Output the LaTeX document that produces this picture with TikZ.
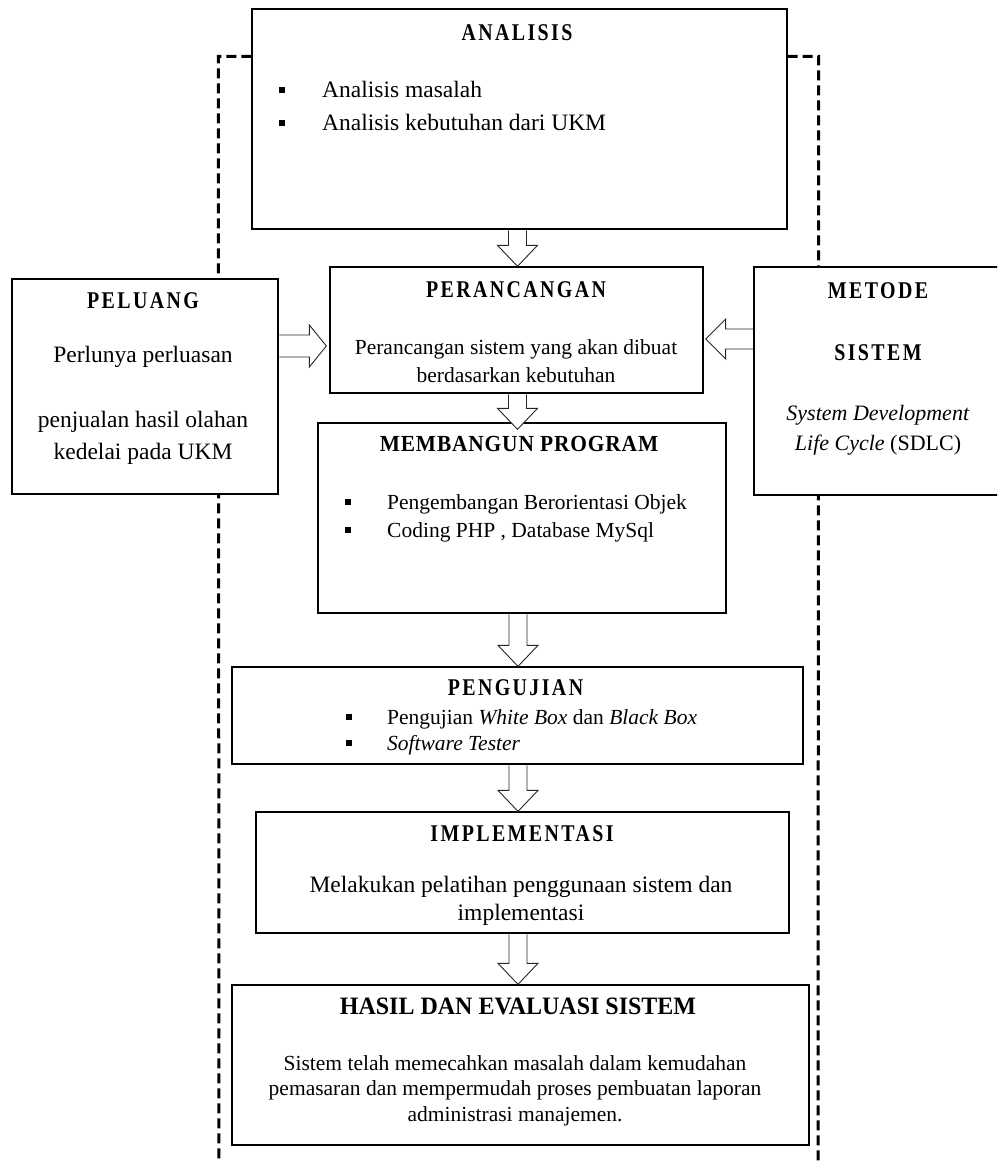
\documentclass[tikz,border=0pt]{standalone}
\usepackage{graphicx}
\usepackage{fontspec}
\setmainfont{Liberation Serif}
\newfontfamily\ttlfont[LetterSpace=12]{Liberation Serif}
\newfontfamily\ttlfontb[LetterSpace=4]{Liberation Serif}
\usetikzlibrary{calc}
\pgfdeclarelayer{bg}
\pgfsetlayers{bg,main}
\newcommand\ttltext[1]{\scalebox{0.83}[1]{#1}}
\tikzset{
 boxs/.style={draw, line width=1.3pt, fill=white, inner sep=0pt},
 blk/.style={draw=black!85, line width=0.9pt, fill=white, line join=miter},
 dashfr/.style={line width=3pt, dash pattern=on 10pt off 5pt},
 txt/.style={inner sep=0pt, anchor=base},
 ttl/.style={txt, font=\ttlfont\bfseries\fontsize{24}{28}\selectfont},
 body/.style={txt, font=\fontsize{21.5}{26}\selectfont},
 bigbody/.style={txt, font=\fontsize{23.5}{28}\selectfont},
 bul/.style={fill=black, minimum size=6.5pt, inner sep=0pt},
}
% vertical block arrow: from node, to node, x (px), overshoot (px)
\newcommand\vblk[4]{%
 \draw[blk] let \p1=(#1.south), \p2=(#2.north) in
  ({#3pt-9pt},{\y1-0.6pt}) -- ({#3pt-9pt},{\y2-#4pt+21pt}) -- ({#3pt-20pt},{\y2-#4pt+21pt})
  -- (#3pt,{\y2-#4pt}) -- ({#3pt+20pt},{\y2-#4pt+21pt}) -- ({#3pt+9pt},{\y2-#4pt+21pt})
  -- ({#3pt+9pt},{\y1-0.6pt});}
% right block arrow: from node, to node, y (px)
\newcommand\rblk[3]{%
 \draw[blk] let \p1=(#1.east), \p2=(#2.west) in
  ({\x1+0.6pt},{-#3pt+11pt}) -- ({\x2-20pt},{-#3pt+11pt}) -- ({\x2-20pt},{-#3pt+21pt})
  -- ({\x2-3pt},{-#3pt}) -- ({\x2-20pt},{-#3pt-21pt}) -- ({\x2-20pt},{-#3pt-11pt})
  -- ({\x1+0.6pt},{-#3pt-11pt});}
% left block arrow: from node, to node, y (px)
\newcommand\lblk[3]{%
 \draw[blk] let \p1=(#1.west), \p2=(#2.east) in
  ({\x1-0.6pt},{-#3pt+10pt}) -- ({\x2+22pt},{-#3pt+10pt}) -- ({\x2+22pt},{-#3pt+20pt})
  -- ({\x2+2pt},{-#3pt}) -- ({\x2+22pt},{-#3pt-20pt}) -- ({\x2+22pt},{-#3pt-10pt})
  -- ({\x1-0.6pt},{-#3pt-10pt});}
\begin{document}
\begin{tikzpicture}[x=1pt,y=-1pt]
\useasboundingbox (0,0) rectangle (997,1162);
\clip (0,0) rectangle (997,1162);

% boxes
\node[boxs, minimum width=535pt, minimum height=220pt] (ana) at (519.5,119) {};
\node[boxs, minimum width=373pt, minimum height=126pt] (per) at (516.5,330) {};
\node[boxs, minimum width=266pt, minimum height=215pt] (pel) at (145,386.5) {};
\node[boxs, minimum width=251pt, minimum height=228pt] (met) at (879.5,381) {};
\node[boxs, minimum width=408pt, minimum height=190pt] (mem) at (522,518) {};
\node[boxs, minimum width=571pt, minimum height=97pt] (pen) at (517.5,715.5) {};
\node[boxs, minimum width=533pt, minimum height=121pt] (imp) at (522.5,872.5) {};
\node[boxs, minimum width=577pt, minimum height=160pt] (has) at (520.5,1065) {};

% dashed frame
\coordinate (lbot) at (219,1170);
\coordinate (rbot) at (818,1170);
\begin{pgfonlayer}{bg}
\draw[dashfr] ([yshift=-48pt]ana.north west) -- ++(-33,0) -- (lbot);
\draw[dashfr] ([yshift=-48pt]ana.north east) -- ++(31,0) -- (rbot);
\end{pgfonlayer}
\coordinate (pelbar) at (122,494);
\draw[line width=2.5pt] (pelbar) -- (pelbar -| lbot);

% texts: ANALISIS
\node[ttl] (anaT) at (517,40) {\ttltext{ANALISIS}};
\node[bul] (anaB1) at (282,90) {};
\node[bul] (anaB2) at (282,123) {};
\node[bigbody, anchor=base west] (anaL1) at (322,97) {Analisis masalah};
\node[bigbody, anchor=base west] (anaL2) at (322,130) {Analisis kebutuhan dari UKM};

% PERANCANGAN
\node[ttl] (perT) at (516,297) {\ttltext{PERANCANGAN}};
\node[body] (perL1) at (516,354) {Perancangan sistem yang akan dibuat};
\node[body] (perL2) at (516,382) {berdasarkan kebutuhan};

% PELUANG
\node[ttl] (pelT) at (143,308) {\ttltext{PELUANG}};
\node[bigbody] (pelL1) at (143,362) {Perlunya perluasan};
\node[bigbody] (pelL2) at (143,427) {penjualan hasil olahan};
\node[bigbody] (pelL3) at (143,459) {kedelai pada UKM};

% METODE
\node[ttl] (metT1) at (878,298) {\ttltext{METODE}};
\node[ttl] (metT2) at (878,360) {\ttltext{SISTEM}};
\node[txt, font=\fontsize{22}{26}\selectfont] (metL1) at (878,420) {\textit{System Development}};
\node[txt, font=\fontsize{22}{26}\selectfont] (metL2) at (878,450) {\textit{Life Cycle} (SDLC)};

% MEMBANGUN PROGRAM
\node[txt, font=\ttlfontb\bfseries\fontsize{23}{27}\selectfont] (memT) at (519,451) {\scalebox{0.93}[1]{MEMBANGUN PROGRAM}};
\node[bul] (memB1) at (348,502) {};
\node[bul] (memB2) at (348,530) {};
\node[body, anchor=base west] (memL1) at (387,509) {Pengembangan Berorientasi Objek};
\node[body, anchor=base west] (memL2) at (387,537) {Coding PHP , Database MySql};

% PENGUJIAN
\node[ttl] (penT) at (515.5,695) {\ttltext{PENGUJIAN}};
\node[bul] (penB1) at (349,717) {};
\node[bul] (penB2) at (349,743) {};
\node[body, anchor=base west] (penL1) at (387,724) {Pengujian \textit{White Box} dan \textit{Black Box}};
\node[body, anchor=base west] (penL2) at (387,750) {\textit{Software Tester}};

% IMPLEMENTASI
\node[ttl] (impT) at (522,841) {\ttltext{IMPLEMENTASI}};
\node[bigbody] (impL1) at (521,892) {Melakukan pelatihan penggunaan sistem dan};
\node[bigbody] (impL2) at (521,920) {implementasi};

% HASIL
\node[txt, font=\bfseries\fontsize{25}{29}\selectfont] (hasT) at (518,1014) {\scalebox{0.96}[1]{HASIL DAN EVALUASI SISTEM}};
\node[body] (hasL1) at (515,1070) {Sistem telah memecahkan masalah dalam kemudahan};
\node[body] (hasL2) at (515,1095) {pemasaran dan mempermudah proses pembuatan laporan};
\node[body] (hasL3) at (515,1121) {administrasi manajemen.};

% block arrows
\vblk{ana}{per}{517.5}{0}
\vblk{per}{mem}{517.5}{7}
\vblk{mem}{pen}{518}{0}
\vblk{pen}{imp}{518}{0}
\vblk{imp}{has}{518}{0}
\rblk{pel}{per}{346}
\lblk{met}{per}{339}
\end{tikzpicture}
\end{document}
